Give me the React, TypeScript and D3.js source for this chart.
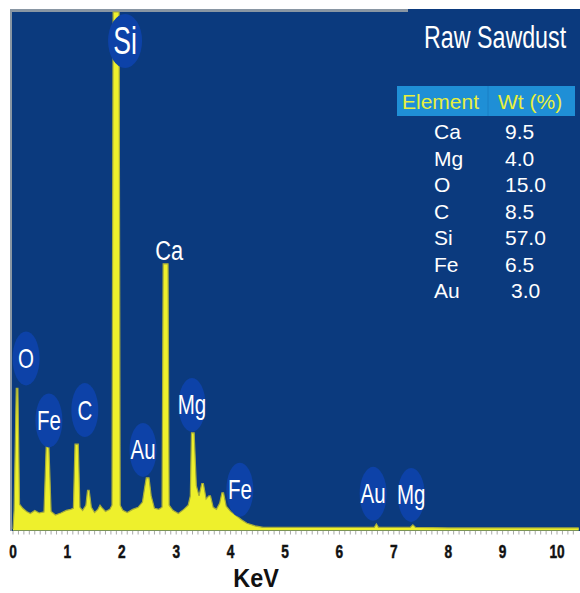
import React from "react";
import * as d3 from "d3";

// Spectrum: [energy keV, counts (arbitrary, Si peak = 1000)]
const spectrum: [number, number][] = [
  [0.0, 0], [0.02, 36], [0.06, 272], [0.09, 272], [0.12, 48], [0.18, 40], [0.25, 34], [0.32, 30],
  [0.4, 36], [0.48, 31], [0.57, 33], [0.61, 159], [0.66, 159], [0.7, 34], [0.78, 27], [0.88, 31],
  [0.98, 36], [1.06, 38], [1.11, 40], [1.14, 164], [1.2, 164], [1.23, 42], [1.28, 36], [1.34, 46],
  [1.37, 75], [1.4, 75], [1.44, 42], [1.5, 32], [1.56, 38], [1.6, 46], [1.63, 42], [1.7, 34],
  [1.78, 38], [1.82, 46], [1.84, 1000], [1.95, 1000], [1.97, 46], [2.02, 36], [2.1, 32], [2.2, 38],
  [2.3, 42], [2.38, 52], [2.42, 80], [2.45, 99], [2.5, 99], [2.54, 64], [2.6, 40], [2.68, 38],
  [2.74, 42], [2.76, 513], [2.85, 513], [2.87, 46], [2.94, 36], [3.04, 30], [3.14, 38], [3.22, 46],
  [3.26, 64], [3.28, 186], [3.33, 186], [3.37, 84], [3.42, 64], [3.47, 88], [3.5, 88], [3.55, 58],
  [3.6, 64], [3.63, 64], [3.68, 42], [3.74, 38], [3.8, 50], [3.84, 70], [3.87, 70], [3.92, 44],
  [4.0, 34], [4.1, 26], [4.2, 18], [4.3, 11], [4.45, 6], [4.6, 3], [5.0, 3], [6.0, 3],
  [6.64, 3], [6.68, 10], [6.72, 3], [7.3, 3], [7.35, 8], [7.4, 3], [8.0, 2], [10.4, 2],
];

// Peak labels: [element, energy keV, label centre in counts]
const peakLabels: [string, number, number][] = [
  ["O", 0.24, 330],
  ["Fe", 0.66, 210],
  ["C", 1.32, 230],
  ["Au", 2.39, 153],
  ["Mg", 3.29, 240],
  ["Fe", 4.17, 76],
  ["Au", 6.62, 68],
  ["Mg", 7.32, 66],
];
const siLabel: [string, number, number] = ["Si", 2.06, 944];
const caLabel: [string, number, number] = ["Ca", 2.87, 540];

const xTicks = [0, 1, 2, 3, 4, 5, 6, 7, 8, 9, 10];
const xTickLabels = ["0", "1", "2", "3", "4", "5", "6", "7", "8", "9", "10"];
const xTitle = "KeV";
const title = "Raw Sawdust";

const tableHeader = ["Element", "Wt (%)"];
const tableElements = ["Ca", "Mg", "O", "C", "Si", "Fe", "Au"];
const tableWt = ["9.5", "4.0", "15.0", "8.5", "57.0", "6.5", "3.0"];

const FONT = "'Liberation Sans', Arial, sans-serif";

export default function App() {
  const W = 580;
  const H = 593;
  const x = d3.scaleLinear().domain([0, 10]).range([13, 557]);
  const y = d3.scaleLinear().domain([0, 1000]).range([529, 12]);

  const area = d3
    .area<[number, number]>()
    .x((d) => x(d[0]))
    .y0(y(0) + 1.5)
    .y1((d) => y(d[1]));
  const line = d3
    .line<[number, number]>()
    .x((d) => x(d[0]))
    .y((d) => y(d[1]));

  const minor = d3.range(0, 104, 1).map((i) => i / 10);

  const rows = d3.range(tableElements.length);
  const rowY = d3.scaleLinear().domain([0, 1]).range([139, 165.5]);

  return (
    <svg
      width={W}
      height={H}
      style={{ position: "absolute", left: 0, top: 0, background: "#fff" }}
      fontFamily={FONT}
    >
      <defs>
        <linearGradient id="tail" x1="0" x2="1" y1="0" y2="0">
          <stop offset="0" stopColor="#c9d27a" />
          <stop offset="0.55" stopColor="#b9c48a" />
          <stop offset="1" stopColor="#5d7396" />
        </linearGradient>
      </defs>
      {/* panel */}
      <rect x={11} y={9} width={569} height={522} fill="#0b3a7e" />
      <line x1={11} x2={408} y1={10.5} y2={10.5} stroke="#8996a3" strokeWidth={3} />
      <line x1={11} x2={11} y1={9} y2={531} stroke="#8996a3" strokeWidth={2} />

      {/* minor ticks */}
      {minor.map((m) => (
        <line key={m} x1={x(m)} x2={x(m)} y1={531} y2={534.5} stroke="#a9a9a9" strokeWidth={1} />
      ))}

      {/* tail baseline */}
      <line x1={x(4.2)} x2={580} y1={529} y2={529} stroke="url(#tail)" strokeWidth={3} />

      {/* spectrum */}
      <path d={area(spectrum) || ""} fill="#eef02c" />
      <path d={line(spectrum) || ""} fill="none" stroke="#a6ac3a" strokeWidth={1.2} />

      {/* Si label */}
      <ellipse cx={x(siLabel[1])} cy={y(siLabel[2])} rx={17} ry={27} fill="#0d42a8" />
      <g transform={`translate(${x(siLabel[1])},${y(siLabel[2]) + 13}) scale(0.7,1)`}>
        <text textAnchor="middle" fontSize={38} fill="#fff">{siLabel[0]}</text>
      </g>

      {/* Ca label */}
      <g transform={`translate(${x(caLabel[1])},${y(caLabel[2]) + 10}) scale(0.78,1)`}>
        <text textAnchor="middle" fontSize={28} fill="#fff">{caLabel[0]}</text>
      </g>

      {/* peak labels */}
      {peakLabels.map(([el, e, c], i) => (
        <g key={i}>
          <ellipse cx={x(e)} cy={y(c)} rx={13.5} ry={27} fill="#0d42a8" />
          <g transform={`translate(${x(e)},${y(c) + 9.5}) scale(0.76,1)`}>
            <text textAnchor="middle" fontSize={27} fill="#fff">{el}</text>
          </g>
        </g>
      ))}

      {/* title */}
      <g transform="translate(424,48) scale(0.75,1)">
        <text fontSize={31} fill="#fff">{title}</text>
      </g>

      {/* table */}
      <rect x={397} y={86} width={178} height={30} fill="#1f8fd6" />
      <line x1={488} x2={488} y1={86} y2={116} stroke="#1a7fc4" strokeWidth={1} />
      <text x={402} y={109} fontSize={21} fill="#e8f03c">{tableHeader[0]}</text>
      <text x={498} y={109} fontSize={21} fill="#e8f03c">{tableHeader[1]}</text>
      {rows.map((i) => (
        <g key={i}>
          <text x={434} y={rowY(i)} fontSize={21} fill="#fff">{tableElements[i]}</text>
          <text x={i === rows.length - 1 ? 511 : 505} y={rowY(i)} fontSize={21} fill="#fff">
            {tableWt[i]}
          </text>
        </g>
      ))}

      {/* x tick labels */}
      {xTicks.map((t, i) => (
        <g key={t} transform={`translate(${x(t)},557.5) scale(0.74,1)`}>
          <text
            textAnchor="middle"
            fontSize={18.5}
            fontWeight="bold"
            fill="#111"
            stroke="#111"
            strokeWidth={0.5}
          >
            {xTickLabels[i]}
          </text>
        </g>
      ))}

      {/* x title */}
      <g transform="translate(256,587) scale(0.9,1)">
        <text textAnchor="middle" fontSize={26} fontWeight="bold" fill="#111">{xTitle}</text>
      </g>
    </svg>
  );
}
